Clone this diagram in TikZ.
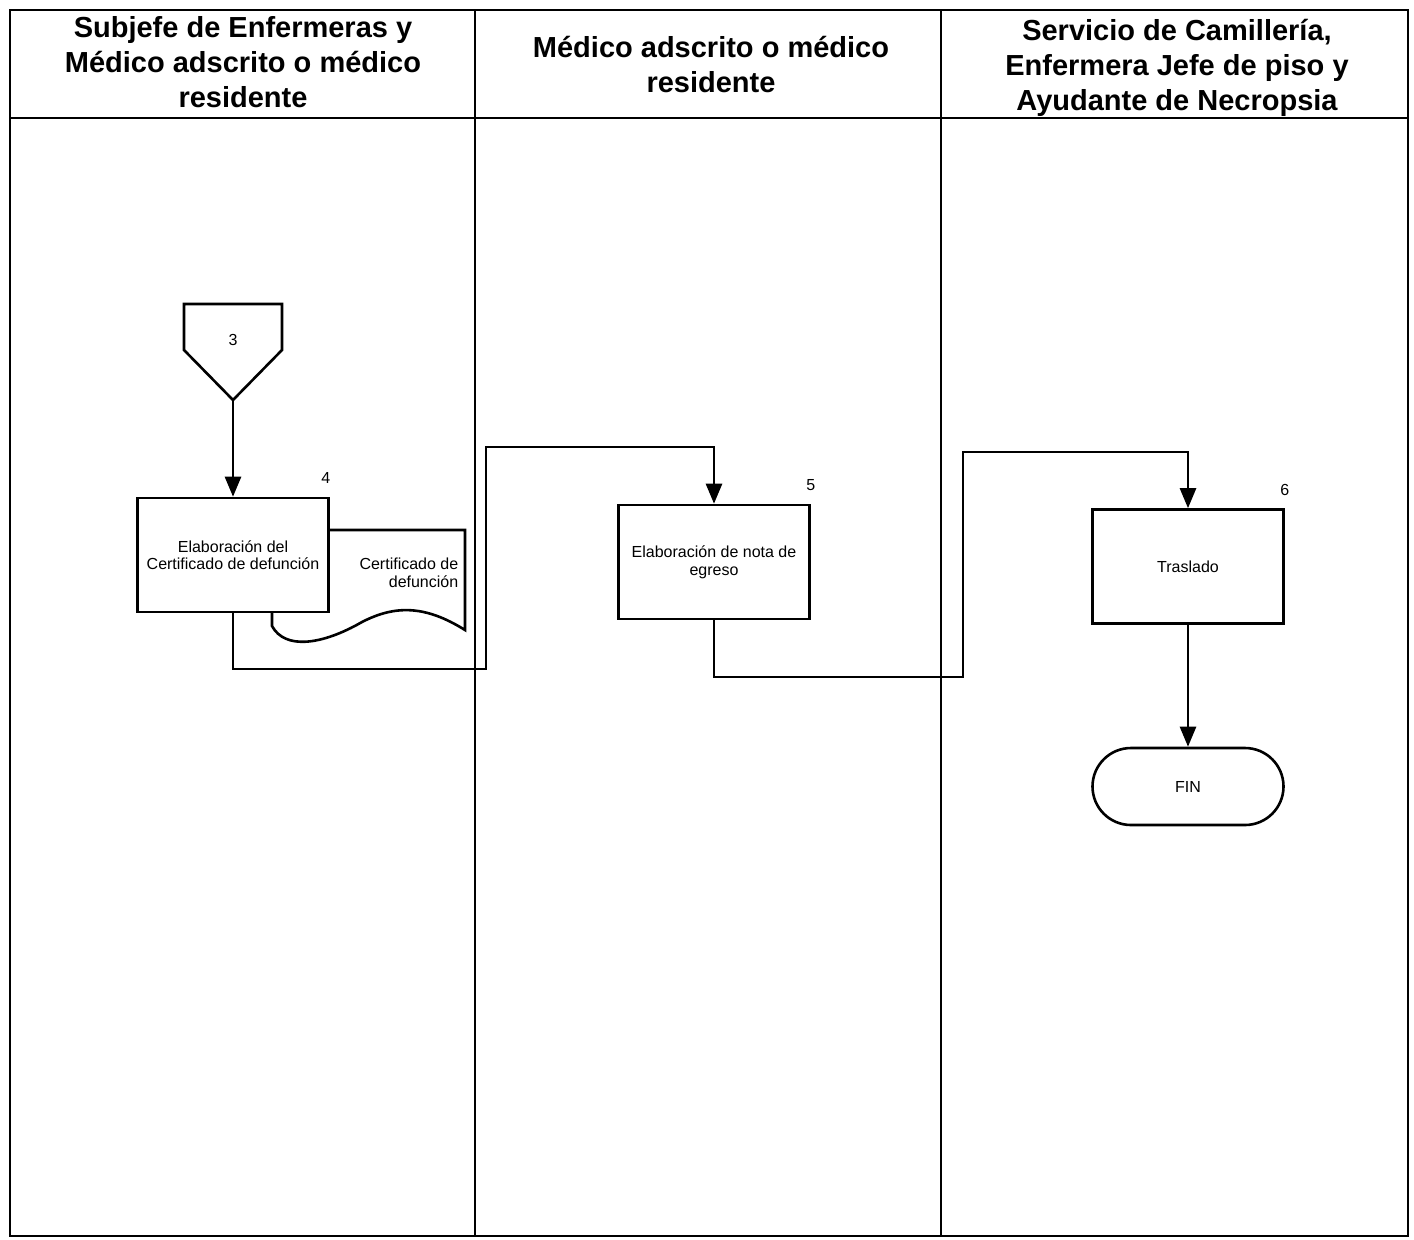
\documentclass[tikz,border=0pt]{standalone}
\usepackage{fontspec}
\setmainfont{Liberation Sans}
\usetikzlibrary{arrows.meta,positioning}

\tikzset{every picture/.style={line width=0.75pt}}

\begin{document}
\begin{tikzpicture}[x=0.5pt,y=0.5pt,yscale=-1,xscale=1,
	proceso/.style={draw, line width=1.3pt, fill=white, minimum width=95.5pt, minimum height=57pt, align=center, font=\fontsize{8}{8.8}\selectfont},
	numero/.style={inner sep=0pt, font=\fontsize{8}{8.8}\selectfont},
	titulo/.style={align=center, font=\fontsize{14.5}{17.5}\selectfont\bfseries},
	linea/.style={line width=1.3pt},
	flecha/.style={line width=1.3pt, -{Triangle[width=8pt,length=10pt]}}]
	\useasboundingbox (0,0) rectangle (1414,1239);

	%Shape: Rectangle [frame]
	\draw [line width=1pt] (10,10) rectangle (1408,1236);
	%Straight Lines [header]
	\draw [line width=1pt] (10,118) -- (1408,118);
	%Straight Lines [lanes]
	\draw [line width=0.6pt] (475,10) -- (475,1236);
	\draw [line width=0.6pt] (941,10) -- (941,1236);

	% Text Node
	\node [titulo] (t1) at (243,62) {Subjefe de Enfermeras y\\Médico adscrito o médico\\residente};
	% Text Node
	\node [titulo] (t2) at (711,64) {Médico adscrito o médico\\residente};
	% Text Node
	\node [titulo] (t3) at (1177,68) {Servicio de Camillería,\\Enfermera Jefe de piso y\\Ayudante de Necropsia};

	%Shape: Off-page connector
	\draw [linea] (184,304) -- (282,304) -- (282,350) -- (233,400) -- (184,350) -- cycle;
	\node [numero] (c3) at (233,340) {3};
	\coordinate (c3tip) at (233,400);

	%Shape: Document
	\draw [linea] (300,530) -- (465,530) -- (465,630) .. controls (425,605) and (395,605) .. (362,622) .. controls (322,645) and (285,650) .. (272,626) -- (272,600);
	% Text Node
	\node [numero, align=right, anchor=east] (doc) at (459,573) {Certificado de\\defunción};

	%Shape: Rectangle [4]
	\node [proceso] (b4) at (233,555) {Elaboración del\\Certificado de defunción};
	\node [numero, above=6pt of b4.north east, xshift=-2pt] (n4) {4};
	%Shape: Rectangle [5]
	\node [proceso] (b5) at (714,562) {Elaboración de nota de\\egreso};
	\node [numero, above=6pt of b5.north east] (n5) {5};
	%Shape: Rectangle [6]
	\node [proceso] (b6) at (1188,566.5) {Traslado};
	\node [numero, above=6pt of b6.north east] (n6) {6};
	%Shape: Terminator
	\node [proceso, minimum height=38.5pt, rounded corners=19.25pt] (fin) at (1188,786.5) {FIN};

	%Straight Lines [connectors]
	\coordinate (p45) at (486,669);
	\coordinate (q45) at (486,447);
	\coordinate (p56) at (963,677);
	\coordinate (q56) at (963,452);
	\draw [flecha] (c3tip) -- (b4.north);
	\draw [flecha] (b4.south) |- (p45) -- (q45) -| (b5.north);
	\draw [flecha] (b5.south) |- (p56) -- (q56) -| (b6.north);
	\draw [flecha] (b6.south) -- (fin.north);

\end{tikzpicture}
\end{document}
